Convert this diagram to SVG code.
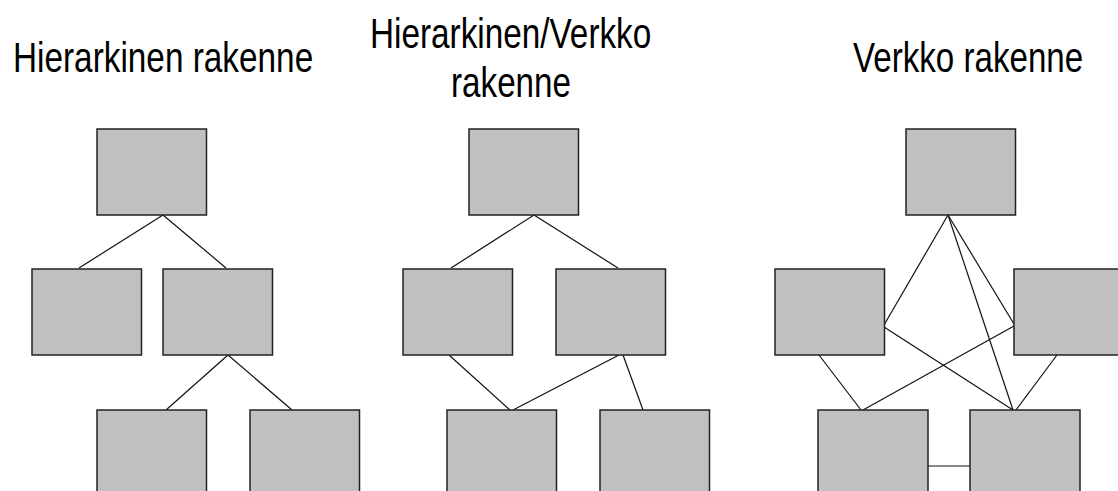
<svg xmlns="http://www.w3.org/2000/svg" width="1118" height="491" viewBox="0 0 1118 491">
<style>
.t{font-family:"Liberation Sans",Arial,sans-serif;font-size:42px;fill:#000}
.n{fill:#c0c0c0;stroke:#222;stroke-width:1.5}
.c line{stroke:#111;stroke-width:1.2}
</style>
<rect width="1118" height="491" fill="#fff"/>
<g id="titles">
<text class="t" transform="translate(13,72) scale(0.794,1)">Hierarkinen rakenne</text>
<text class="t" transform="translate(370,48) scale(0.793,1)">Hierarkinen/Verkko</text>
<text class="t" transform="translate(451,97) scale(0.791,1)">rakenne</text>
<text class="t" transform="translate(853,72) scale(0.789,1)">Verkko rakenne</text>
</g>
<g id="connectors" class="c">
<line x1="163" y1="215" x2="79" y2="268"/>
<line x1="163" y1="215" x2="226" y2="268"/>
<line x1="228" y1="355" x2="166" y2="410"/>
<line x1="228" y1="355" x2="292" y2="410"/>
<line x1="534" y1="215" x2="451" y2="268"/>
<line x1="534" y1="215" x2="618" y2="268"/>
<line x1="449" y1="355" x2="510" y2="410"/>
<line x1="619" y1="355" x2="513" y2="410"/>
<line x1="623" y1="355" x2="643" y2="410"/>
<line x1="948" y1="215" x2="884" y2="325"/>
<line x1="948" y1="215" x2="1014" y2="324"/>
<line x1="948" y1="215" x2="1013" y2="410"/>
<line x1="884" y1="327" x2="1013" y2="410"/>
<line x1="1014" y1="326" x2="863" y2="410"/>
<line x1="819" y1="355" x2="861" y2="410"/>
<line x1="1057" y1="355" x2="1016" y2="410"/>
<line x1="928" y1="466" x2="970" y2="466"/>
</g>
<g id="h-top"><rect class="n" x="97" y="129" width="109.5" height="86"/></g>
<g id="h-midleft"><rect class="n" x="32" y="269" width="109.5" height="86"/></g>
<g id="h-midright"><rect class="n" x="163" y="269" width="109.5" height="86"/></g>
<g id="h-botleft"><rect class="n" x="97" y="410" width="109.5" height="86"/></g>
<g id="h-botright"><rect class="n" x="250" y="410" width="109.5" height="86"/></g>
<g id="hv-top"><rect class="n" x="469" y="129" width="109.5" height="86"/></g>
<g id="hv-midleft"><rect class="n" x="403" y="269" width="109.5" height="86"/></g>
<g id="hv-midright"><rect class="n" x="556" y="269" width="109.5" height="86"/></g>
<g id="hv-botleft"><rect class="n" x="447" y="410" width="109.5" height="86"/></g>
<g id="hv-botright"><rect class="n" x="600" y="410" width="109.5" height="86"/></g>
<g id="v-top"><rect class="n" x="906" y="129" width="109.5" height="86"/></g>
<g id="v-midleft"><rect class="n" x="775" y="269" width="109.5" height="86"/></g>
<g id="v-midright"><rect class="n" x="1014" y="269" width="109.5" height="86"/></g>
<g id="v-botleft"><rect class="n" x="818" y="410" width="110" height="86"/></g>
<g id="v-botright"><rect class="n" x="970" y="410" width="110" height="86"/></g>
</svg>
